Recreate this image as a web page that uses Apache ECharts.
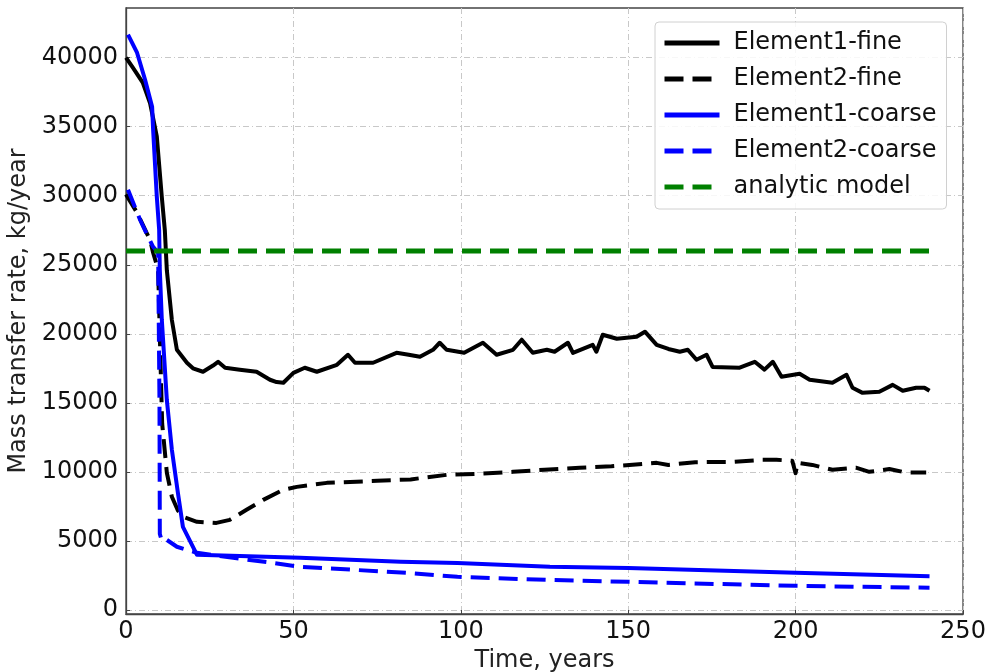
<!DOCTYPE html>
<html>
<head>
<meta charset="utf-8">
<script src="https://cdn.jsdelivr.net/npm/echarts@6/dist/echarts.min.js"></script>
<style>
html,body{margin:0;padding:0;background:#fff;}
#chart{width:987px;height:672px;}
</style>
</head>
<body>
<div id="chart"></div>
<script>
// ---- data ----
const e1FineX = [0, 2, 5, 7.2, 9.2, 10.7, 11.6, 12.2, 13.7, 15.2, 18.2, 20, 23, 26, 27.5, 29.6, 34, 39, 43, 45, 47, 50, 53.4, 57, 63, 66.3, 68.4, 73.8, 80.8, 84, 87.8, 91.7, 93.7, 95.8, 101, 106.6, 110.7, 115.6, 118.2, 121.5, 125.7, 128, 132, 133.5, 139.4, 140.5, 142.4, 146.6, 152.5, 155, 158.5, 162, 165.4, 167.8, 170.4, 173.4, 175.2, 183.3, 187.8, 190.7, 193.2, 195.8, 201.2, 204.2, 211, 215.2, 217, 220, 225, 229, 232, 236, 238.5, 240];
const e1FineY = [40000, 39300, 38200, 36700, 34300, 29900, 27500, 24600, 21000, 18840, 17900, 17500, 17250, 17700, 17970, 17540, 17400, 17250, 16670, 16500, 16450, 17170, 17540, 17250, 17750, 18480, 17900, 17900, 18620, 18500, 18330, 18840, 19350, 18840, 18620, 19350, 18480, 18840, 19570, 18620, 18840, 18700, 19350, 18620, 19200, 18700, 19930, 19640, 19780, 20150, 19200, 18900, 18700, 18840, 18120, 18480, 17600, 17540, 17970, 17400, 17970, 16880, 17100, 16670, 16450, 17030, 16090, 15720, 15800, 16300, 15870, 16090, 16090, 15870];

const e2FineX = [0, 3.3, 5.7, 7.2, 8.1, 9.6, 10.3, 10.8, 12.2, 13.7, 15.5, 17, 21.2, 27, 31, 36, 41, 47, 51, 60, 75, 85, 95.8, 105, 115.6, 125, 135.5, 145, 158.5, 162, 170, 181, 190, 194.3, 199, 200, 200.6, 205, 211, 218, 222, 228, 233, 239];
const e2FineY = [30100, 28770, 27540, 26800, 25870, 24640, 18000, 13500, 9930, 8190, 7200, 6740, 6380, 6300, 6520, 7250, 7970, 8700, 8910, 9200, 9350, 9450, 9780, 9850, 10000, 10150, 10290, 10400, 10650, 10500, 10700, 10720, 10870, 10870, 10800, 9900, 10650, 10500, 10150, 10300, 10000, 10200, 9950, 9950];

const e1CoarseX = [0.6, 3.3, 5.7, 7.8, 8.1, 9.2, 9.9, 10.1, 10.7, 12.2, 13.7, 15.5, 17, 21.2, 52, 82, 99, 126.6, 150, 200, 240];
const e1CoarseY = [41670, 40360, 38400, 36450, 34780, 29930, 27540, 24640, 21000, 15200, 11600, 8480, 6010, 3990, 3770, 3480, 3400, 3120, 3040, 2680, 2430];

const e2CoarseX = [0.6, 4.2, 6.6, 8.1, 9.6, 10.0, 10.1, 10.7, 12, 15.2, 21.2, 32, 44, 52, 84, 99, 126, 150, 200, 240];
const e2CoarseY = [30430, 28260, 27030, 26300, 25870, 15000, 5500, 5000, 5100, 4570, 4130, 3770, 3400, 3120, 2680, 2390, 2170, 2030, 1740, 1600];

const analyticX = [0, 240];
const analyticY = [26000, 26000];

const xTicks = [0, 50, 100, 150, 200, 250];
const yTicks = [0, 5000, 10000, 15000, 20000, 25000, 30000, 35000, 40000];

const seriesNames = ['Element1-fine', 'Element2-fine', 'Element1-coarse', 'Element2-coarse', 'analytic model'];

// ---- build ----
function pairs(xs, ys) { return xs.map((x, i) => [x, ys[i]]); }
const FONT = 'DejaVu Sans';
const FS = 24;
const chart = echarts.init(document.getElementById('chart'), null, {renderer: 'canvas'});

function lineSeries(name, xs, ys, color, dashed, width) {
  return {
    name: name, type: 'line', data: pairs(xs, ys),
    showSymbol: false, symbol: 'none', smooth: false, animation: false,
    lineStyle: {color: color, width: width, type: dashed ? [19, 9] : 'solid', cap: 'butt', join: 'round'},
    itemStyle: {color: color}
  };
}

const option = {
  animation: false,
  backgroundColor: '#fff',
  grid: {left: 126, right: 24, top: 8, bottom: 58, containLabel: false, outerBoundsMode: 'none',
    show: true, borderColor: '#444', borderWidth: 1.3, backgroundColor: 'transparent'},
  xAxis: {
    type: 'value', min: 0, max: 250, interval: 50,
    name: 'Time, years', nameLocation: 'middle', nameGap: 32,
    nameTextStyle: {fontFamily: FONT, fontSize: FS, color: '#222'},
    axisLine: {show: true, onZero: false, lineStyle: {color: '#444', width: 1.3}},
    axisTick: {show: true, inside: true, length: 4, lineStyle: {color: '#444'}},
    axisLabel: {fontFamily: FONT, fontSize: FS, color: '#111', margin: 6,
      formatter: v => xTicks.indexOf(v) >= 0 ? String(v) : ''},
    splitLine: {show: true, lineStyle: {color: '#c8c8c8', type: [6, 3, 1, 3], width: 1}}
  },
  yAxis: {
    type: 'value', min: -300, max: 43600,
    name: 'Mass transfer rate, kg/year', nameLocation: 'middle', nameGap: 87,
    nameTextStyle: {fontFamily: FONT, fontSize: FS, color: '#222'},
    axisLine: {show: true, onZero: false, lineStyle: {color: '#444', width: 1.3}},
    axisTick: {show: true, inside: true, length: 4, customValues: yTicks, lineStyle: {color: '#444'}},
    axisLabel: {fontFamily: FONT, fontSize: FS, color: '#111', margin: 8, customValues: yTicks,
      formatter: v => String(Math.round(v))},
    splitLine: {show: true, lineStyle: {color: '#c8c8c8', type: [6, 3, 1, 3], width: 1}}
  },
  legend: {
    show: true, orient: 'vertical', left: 655, top: 22,
    padding: [9, 10, 10, 7],
    itemWidth: 55, itemHeight: 14, itemGap: 12,
    backgroundColor: 'rgba(255,255,255,0.85)', borderColor: '#d0d0d0', borderWidth: 1, borderRadius: 4,
    textStyle: {fontFamily: FONT, fontSize: FS, color: '#111', padding: [0, 0, 0, 9]},
    itemStyle: {opacity: 0},
    lineStyle: {width: 5},
    data: seriesNames
  },
  series: [
    lineSeries(seriesNames[0], e1FineX, e1FineY, '#000000', false, 4),
    lineSeries(seriesNames[1], e2FineX, e2FineY, '#000000', true, 4),
    lineSeries(seriesNames[2], e1CoarseX, e1CoarseY, '#0000ff', false, 4),
    lineSeries(seriesNames[3], e2CoarseX, e2CoarseY, '#0000ff', true, 4),
    lineSeries(seriesNames[4], analyticX, analyticY, '#008000', true, 5)
  ]
};
chart.setOption(option);
</script>
</body>
</html>
